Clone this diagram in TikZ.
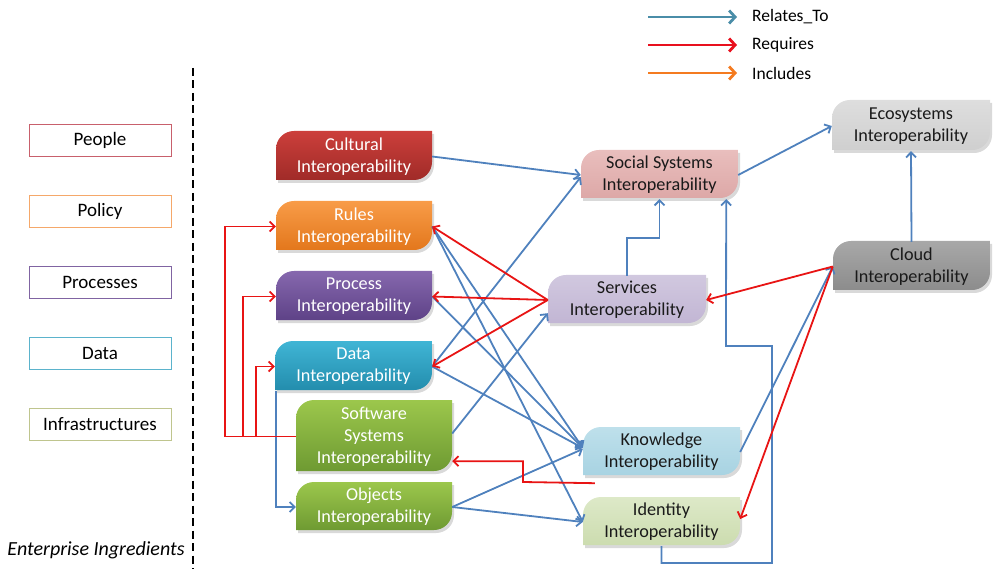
\documentclass[tikz,border=0pt]{standalone}
\usepackage{fontspec}
\setmainfont{Carlito}
\usetikzlibrary{arrows.meta,calc}
\definecolor{relblue}{HTML}{4F81BD}
\definecolor{reqred}{HTML}{E81414}
\definecolor{legrelc}{HTML}{4A8DA8}
\definecolor{legreqc}{HTML}{E8101E}
\definecolor{leginc}{HTML}{F47B20}
\definecolor{peoplec}{HTML}{C8606C}
\definecolor{policyc}{HTML}{F5A86A}
\definecolor{processc}{HTML}{8064A2}
\definecolor{datac}{HTML}{5BB3CC}
\definecolor{infrac}{HTML}{BFC58E}
\definecolor{darktext}{HTML}{1A1A1A}
\definecolor{cultT}{HTML}{CC3F3B}\definecolor{cultB}{HTML}{A02B28}
\definecolor{rulT}{HTML}{F89C48}\definecolor{rulB}{HTML}{E3771C}
\definecolor{proT}{HTML}{8668AE}\definecolor{proB}{HTML}{5E4287}
\definecolor{datT}{HTML}{40B5D5}\definecolor{datB}{HTML}{238DAD}
\definecolor{grnT}{HTML}{9CC74C}\definecolor{grnB}{HTML}{6E9A32}
\definecolor{socT}{HTML}{E9BEBD}\definecolor{socB}{HTML}{DDA8A7}
\definecolor{serT}{HTML}{D1C8DF}\definecolor{serB}{HTML}{C2B6D4}
\definecolor{knoT}{HTML}{BEE0EB}\definecolor{knoB}{HTML}{A8D3E2}
\definecolor{ideT}{HTML}{DDE9C8}\definecolor{ideB}{HTML}{CCDCAF}
\definecolor{ecoT}{HTML}{DEDEDE}\definecolor{ecoB}{HTML}{CFCFCF}
\definecolor{cloT}{HTML}{A8A8A8}\definecolor{cloB}{HTML}{8C8C8C}
\newcommand\boxpath[4]{(#1,#4) -- (#1,#2+18) .. controls (#1,#2+8) and (#1+8,#2) .. (#1+18,#2) -- (#3,#2) -- (#3,#4-18) .. controls (#3,#4-8) and (#3-8,#4) .. (#3-18,#4) -- cycle}
\newcommand\ibox[8]{%
  \begin{scope}[shift={(2,3)}]\fill[black,opacity=0.15] \boxpath{#2}{#3}{#4}{#5};\end{scope}
  \shade[top color=#6T,bottom color=#6B] \boxpath{#2}{#3}{#4}{#5};
  \node[boxtext,text=#7,minimum width={#4-#2},minimum height={#5-#3}] (#1) at ({(#2+#4)/2},{(#3+#5)/2+1}) {#8};
}
\tikzset{
  boxtext/.style={align=center,inner sep=0pt,font=\fontsize{18.2}{22}\selectfont},
  ingbox/.style={rectangle,line width=0.9pt,minimum width=142pt,minimum height=32pt,inner sep=0pt,font=\fontsize{19}{22}\selectfont},
  legtxt/.style={anchor=west,inner sep=0pt,font=\fontsize{17.5}{20}\selectfont},
  rel/.style={draw=relblue,line width=1.8pt,-{Straight Barb[length=5pt,width=10pt]}},
  req/.style={draw=reqred,line width=1.8pt,-{Straight Barb[length=5pt,width=10pt]}},
  legarrow/.style={line width=2.8pt,-{Straight Barb[length=6pt,width=13pt]}},
  dashline/.style={draw=black,line width=2.2pt,dash pattern=on 8pt off 4.5pt},
}
\begin{document}
\begin{tikzpicture}[x=1pt,y=-1pt]
\useasboundingbox (0,0) rectangle (993,569);
% legend
\coordinate (la1) at (648,17); \coordinate (lb1) at (737,17);
\coordinate (la2) at (648,45); \coordinate (lb2) at (737,45);
\coordinate (la3) at (648,73); \coordinate (lb3) at (737,73);
\draw[legarrow,draw=legrelc] (la1) -- (lb1);
\draw[legarrow,draw=legreqc] (la2) -- (lb2);
\draw[legarrow,draw=leginc] (la3) -- (lb3);
\node[legtxt] (lt1) at (752,17) {Relates\_To};
\node[legtxt] (lt2) at (752,45) {Requires};
\node[legtxt] (lt3) at (752,73) {Includes};
% ingredients
\node[ingbox,draw=peoplec] (people) at (100,140.5) {People};
\node[ingbox,draw=policyc] (policy) at (100,211) {Policy};
\node[ingbox,draw=processc] (processes) at (100,282) {Processes};
\node[ingbox,draw=datac] (dataing) at (100,353) {Data};
\node[ingbox,draw=infrac] (infra) at (100,424) {Infrastructures};
\coordinate (d1) at (193,68); \coordinate (d2) at (193,569);
\draw[dashline] (d1) -- (d2);
\node[font=\fontsize{20}{22}\selectfont\itshape,inner sep=0pt] (ent) at (96,550) {Enterprise Ingredients};
% interoperability boxes
\ibox{cult}{276}{131}{432}{180}{cult}{white}{Cultural\\Interoperability}
\ibox{rules}{276}{201}{432}{250}{rul}{white}{Rules\\Interoperability}
\ibox{proc}{276}{271}{432}{320}{pro}{white}{Process\\Interoperability}
\ibox{data}{275}{341}{432}{390}{dat}{white}{Data\\Interoperability}
\ibox{soft}{296}{400}{452}{471}{grn}{white}{Software\\Systems\\Interoperability}
\ibox{obj}{296}{482}{452}{530}{grn}{white}{Objects\\Interoperability}
\ibox{soc}{581}{150}{738}{198}{soc}{darktext}{Social Systems\\Interoperability}
\ibox{serv}{548}{275}{706}{323}{ser}{darktext}{Services\\Interoperability}
\ibox{know}{583}{427}{740}{475}{kno}{darktext}{Knowledge\\Interoperability}
\ibox{iden}{583}{497}{740}{545}{ide}{darktext}{Identity\\Interoperability}
\ibox{eco}{832}{100}{990}{150}{eco}{darktext}{Ecosystems\\Interoperability}
\ibox{cloud}{833}{241}{990}{290}{clo}{darktext}{Cloud\\Interoperability}
% relates_to connectors
\draw[rel] (cult.east) -- (soc.west);
\draw[rel] (data.east) -- ($(soc.west)+(0,2)$);
\draw[rel] ($(soft.east)+(0,-3)$) -- ($(serv.south west)+(0,-11)$);
\draw[rel] (rules.east) -- ($(know.west)+(0,-4)$);
\draw[rel] (rules.east) -- (iden.west);
\draw[rel] (proc.east) -- ($(know.west)+(0,-4)$);
\draw[rel] (data.east) -- ($(know.west)+(0,-4)$);
\draw[rel] (obj.east) -- ($(know.west)+(0,-3)$);
\draw[rel] (obj.east) -- (iden.west);
\draw[rel] (know.east) -- (cloud.west);
\coordinate (w1) at (772,563);
\coordinate (w2) at (726,346);
\draw[rel] (iden.south) |- (w1) |- (w2) -- ($(soc.south east)+(-12,0)$);
\draw[rel] (serv.north) -- ++(0,-38) -| (soc.south);
\draw[rel] (soc.east) -- (eco.west);
\draw[rel] (cloud.north) -- (eco.south);
\draw[rel] ($(data.south west)+(1.5,0)$) |- (obj.west);
% requires connectors
\draw[req] (serv.west) -- (rules.east);
\draw[req] (serv.west) -- (proc.east);
\draw[req] (serv.west) -- (data.east);
\draw[req] (cloud.west) -- (serv.east);
\draw[req] (cloud.west) -- ($(iden.east)+(0,-3)$);
\draw[req] (soft.west) -- ++(-71,0) |- (rules.west);
\draw[req] ($(soft.west)+(-53,0)$) |- (proc.west);
\draw[req] ($(soft.west)+(-40,0)$) |- (data.west);
\coordinate (r7) at ($(know.south west)+(12,7)$);
\draw[req] (r7) -- (523,482) |- ($(soft.south east)+(0,-11)$);
\end{tikzpicture}
\end{document}
